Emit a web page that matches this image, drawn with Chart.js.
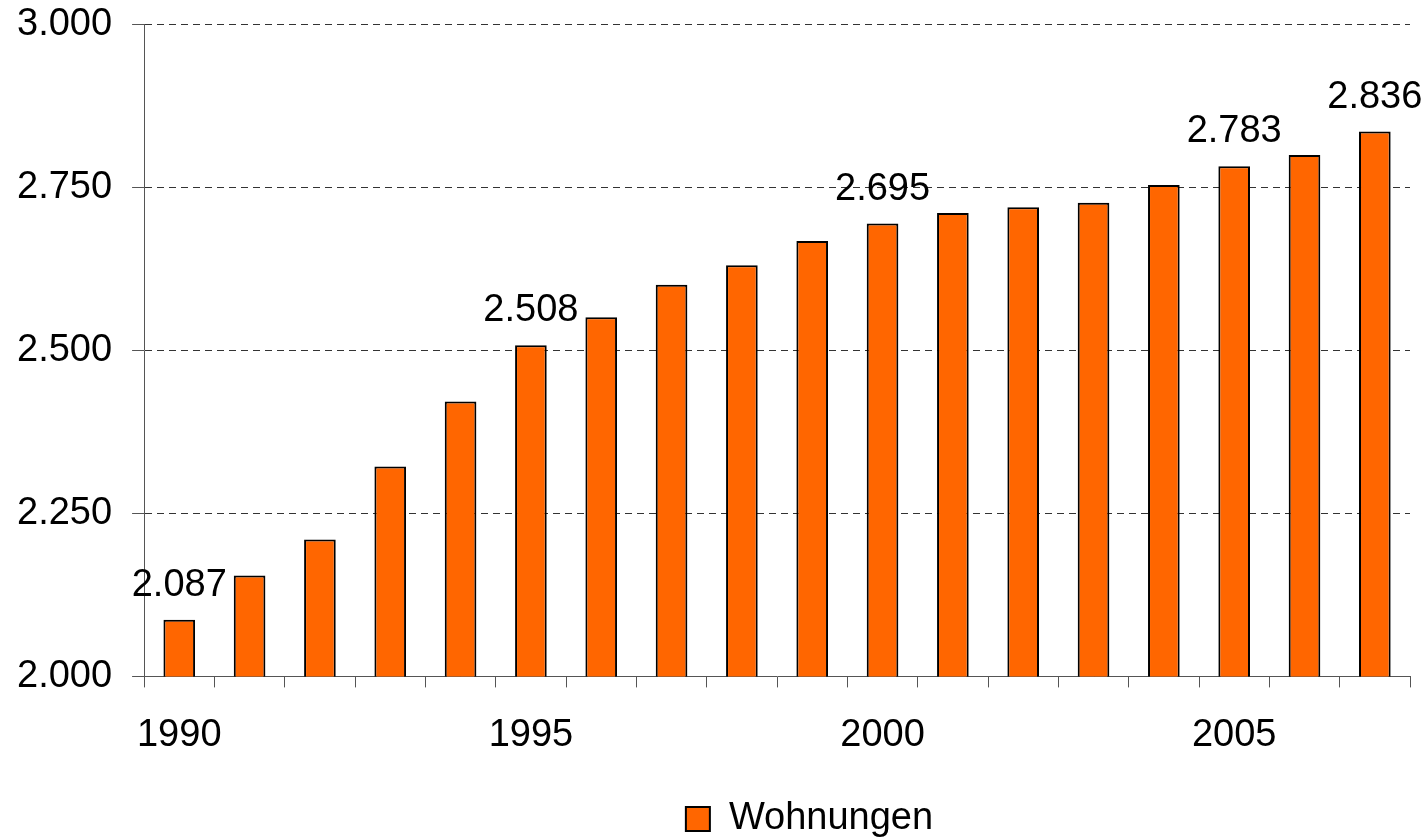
<!DOCTYPE html>
<html>
<head>
<meta charset="utf-8">
<script src="https://cdn.jsdelivr.net/npm/chart.js@4/dist/chart.umd.min.js"></script>
<style>
  html, body { margin: 0; padding: 0; background: #fff; }
  #wrap { width: 1424px; height: 838px; }
</style>
</head>
<body>
<div id="wrap"><canvas id="chart" width="1424" height="838"></canvas></div>
<script>
// data
const years = ['1990','1991','1992','1993','1994','1995','1996','1997','1998',
               '1999','2000','2001','2002','2003','2004','2005','2006','2007'];
const wohnungen = [2087, 2155, 2210, 2322, 2422, 2508, 2551, 2601, 2631,
                   2668, 2695, 2711, 2720, 2727, 2754, 2783, 2800, 2836];
const labelledYears = ['1990','1995','2000','2005','2007'];
const yTicks = [2000, 2250, 2500, 2750, 3000];

const FONT = "'Liberation Sans', Arial, sans-serif";

function fmt(v) {
    // german thousands separator
    return Math.floor(v / 1000) + '.' + String(v % 1000).padStart(3, '0');
}

// draws the value above some bars
const valueLabels = {
    id: 'valueLabels',
    afterLayout(chart) {
        // legend sits a bit right of centre in the original
        chart.legend.left += 106;
        chart.legend.right += 106;
    },
    afterDatasetsDraw(chart) {
        const ctx = chart.ctx;
        const meta = chart.getDatasetMeta(0);
        ctx.save();
        ctx.font = '38px ' + FONT;
        ctx.fillStyle = '#000';
        ctx.textAlign = 'center';
        ctx.textBaseline = 'alphabetic';
        meta.data.forEach((bar, i) => {
            if (labelledYears.includes(years[i])) {
                ctx.fillText(fmt(wohnungen[i]), bar.x, bar.y - 24);
            }
        });
        ctx.restore();
    }
};

Chart.defaults.font.family = FONT;
Chart.defaults.color = '#000';

new Chart(document.getElementById('chart').getContext('2d'), {
    type: 'bar',
    data: {
        labels: years,
        datasets: [{
            label: 'Wohnungen',
            data: wohnungen,
            backgroundColor: '#ff6600',
            borderColor: '#000',
            borderWidth: 2,
            categoryPercentage: 1,
            barPercentage: 0.45
        }]
    },
    options: {
        responsive: false,
        animation: false,
        layout: { padding: { left: -3, right: 14, top: 0, bottom: -10 } },
        scales: {
            x: {
                grid: { drawOnChartArea: false, offset: true, tickLength: 11, color: '#555' },
                border: { color: '#555', width: 1 },
                ticks: {
                    autoSkip: false, maxRotation: 0, padding: 25,
                    font: { size: 38 }, color: '#000',
                    callback: function (val, i) { return i % 5 === 0 ? years[i] : ''; }
                }
            },
            y: {
                min: 2000, max: 3000,
                afterBuildTicks: axis => { axis.ticks = yTicks.map(v => ({ value: v })); },
                grid: { color: '#333', tickLength: 12, tickColor: '#555' },
                border: { color: '#555', dash: [7, 5] },
                ticks: {
                    padding: 20, font: { size: 38, lineHeight: 0.25 }, color: '#000',
                    callback: v => fmt(v)
                }
            }
        },
        plugins: {
            legend: {
                position: 'bottom',
                labels: {
                    boxWidth: 24, boxHeight: 24, padding: 17,
                    font: { size: 38 }, color: '#000'
                }
            },
            tooltip: { enabled: false }
        }
    },
    plugins: [valueLabels]
});
</script>
</body>
</html>
